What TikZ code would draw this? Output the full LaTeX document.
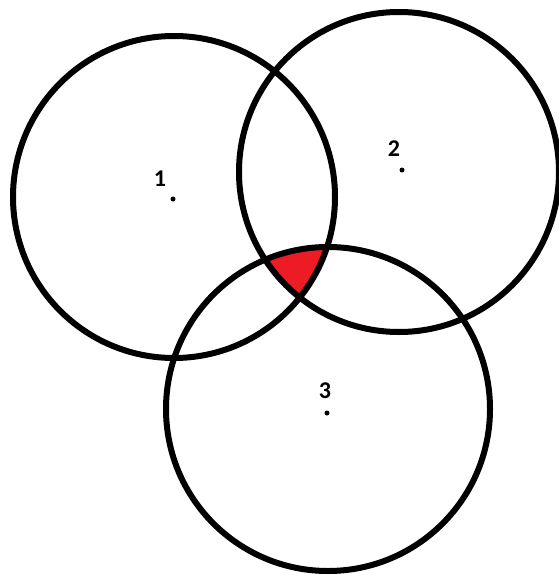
\documentclass[tikz,border=0pt]{standalone}
\usepackage{fontspec}
\setmainfont{Carlito}
\definecolor{paintred}{RGB}{237,28,36}
\begin{document}
\begin{tikzpicture}[x=1pt,y=-1pt,
  ring/.style={line width=6pt},
  lbl/.style={font=\fontsize{24}{26}\selectfont\bfseries,inner sep=0pt}]
\useasboundingbox (0,0) rectangle (558,575);
\coordinate (c1) at (174,197);\coordinate (c2) at (399,172);\coordinate (c3) at (328,409);
% common part of the three discs
\begin{scope}
\clip (c1) circle (161);\clip (c2) circle (160);
\fill[paintred] (c3) circle (162);
\end{scope}
\draw[ring] (c1) circle (161);\draw[ring] (c2) circle (160);\draw[ring] (c3) circle (162);
\fill (173,199) circle (2.5);\fill (402,170) circle (2.5);\fill (327,413) circle (2.5);
\node[lbl] (n1) at (160,179) {1};
\node[lbl] (n2) at (394,149) {2};
\node[lbl] (n3) at (325,391) {3};
\end{tikzpicture}
\end{document}
